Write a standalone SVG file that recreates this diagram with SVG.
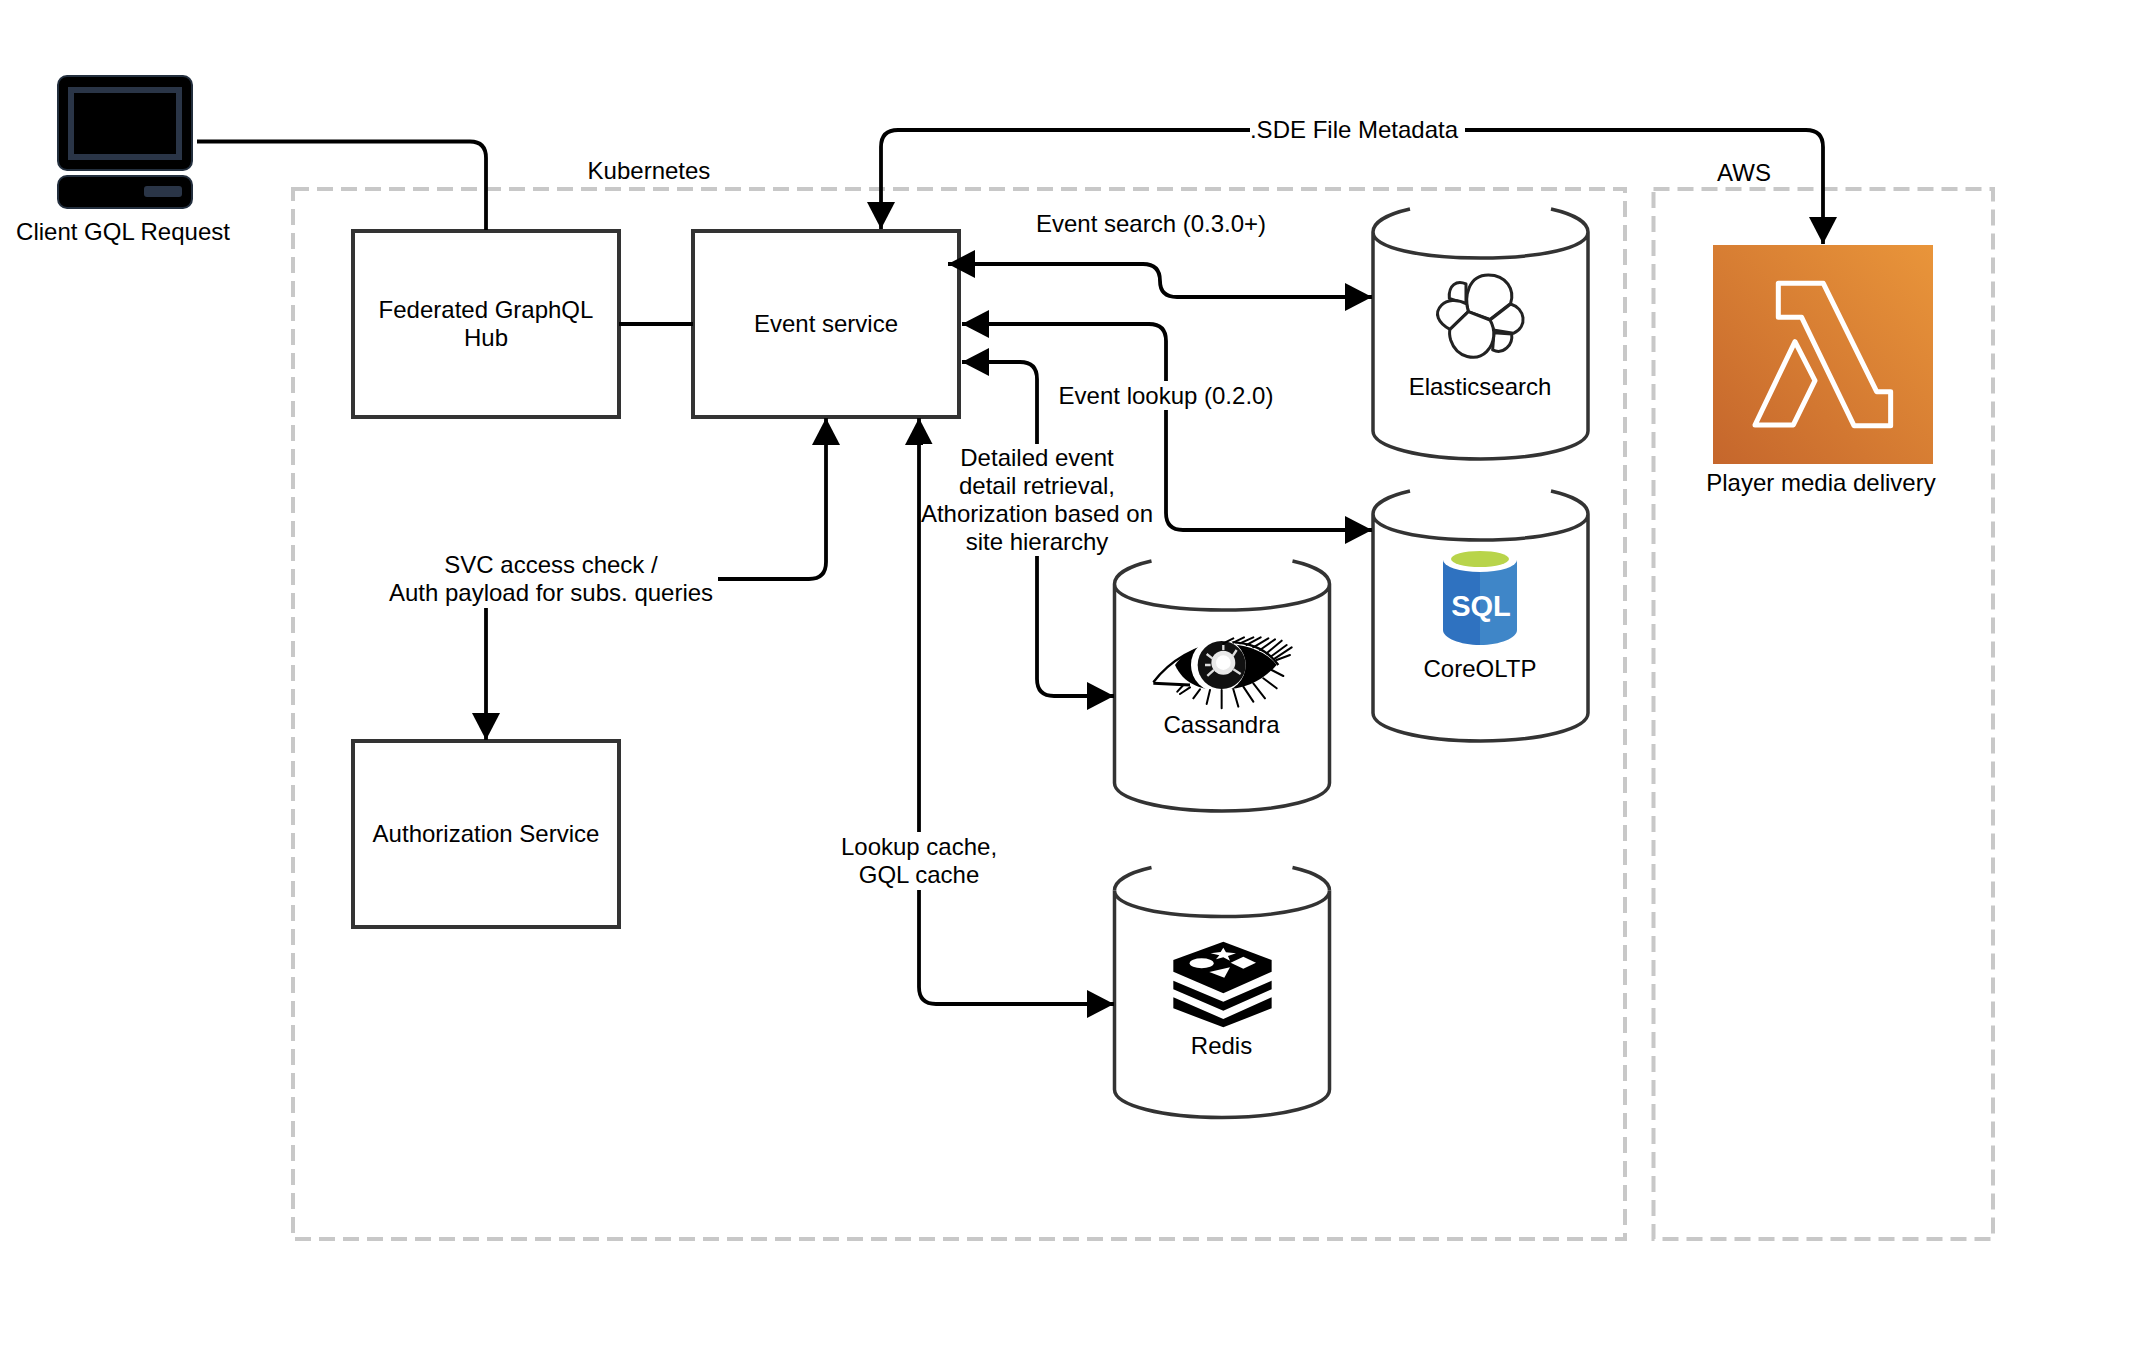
<svg xmlns="http://www.w3.org/2000/svg" width="2134" height="1368" viewBox="0 0 2134 1368">
<style>
text{font-family:"Liberation Sans",Arial,sans-serif;font-size:24px;fill:#000;text-anchor:middle}
.box{fill:#fff;stroke:#333;stroke-width:4}
.zone{fill:none;stroke:#c8c8c8;stroke-width:4;stroke-dasharray:16 8}
.conn{fill:none;stroke:#000;stroke-width:3.800}
.both{marker-start:url(#arrow);marker-end:url(#arrow)}
.end{marker-end:url(#arrow)}
.lbl{fill:#fff}
.cyl{fill:#fff;stroke:#333;stroke-width:3.500}
.cylline{fill:none;stroke:#333;stroke-width:3.500}
</style>
<defs>
<marker id="arrow" viewBox="0 0 27 28" refX="27" refY="14" markerWidth="27" markerHeight="28" markerUnits="userSpaceOnUse" orient="auto-start-reverse"><path d="M0 0L27 14L0 28Z" fill="#000"/></marker>
<linearGradient id="lam" x1="0" y1="1" x2="1" y2="0"><stop offset="0" stop-color="#c5662c"/><stop offset="1" stop-color="#e9953a"/></linearGradient>
<g id="cylinder">
<path class="cyl" d="M0 0V199C0 215 48 227 107.500 227C167 227 215 215 215 199V0C215 16 167 26 107.500 26C48 26 0 16 0 0Z"/>
<path class="cylline" d="M0 0C0-10 15-18 37-23M215 0C215-10 200-18 178-23"/>
</g>
</defs>
<rect width="2134" height="1368" fill="#fff"/>
<g id="zone-kubernetes"><rect class="zone" x="293" y="189" width="1332" height="1050"/><text x="649" y="179">Kubernetes</text></g>
<g id="zone-aws"><rect class="zone" x="1653.500" y="189" width="339.500" height="1050"/><text x="1744" y="181">AWS</text></g>
<g id="client">
<rect x="58" y="76" width="134" height="94" rx="9" fill="#000" stroke="#232f3e" stroke-width="2"/>
<rect x="71" y="90" width="108" height="67" fill="#000" stroke="#2a3547" stroke-width="6"/>
<rect x="58" y="176" width="134" height="32" rx="9" fill="#000" stroke="#232f3e" stroke-width="2"/>
<rect x="144" y="186" width="38" height="11" rx="3" fill="#2a3547"/>
<text x="123" y="240">Client GQL Request</text>
</g>
<g id="hub"><rect class="box" x="353" y="231" width="266" height="186"/><text x="486" y="318">Federated GraphQL</text><text x="486" y="346">Hub</text></g>
<g id="event-service"><rect class="box" x="693" y="231" width="266" height="186"/><text x="826" y="332">Event service</text></g>
<g id="auth"><rect class="box" x="353" y="741" width="266" height="186"/><text x="486" y="842">Authorization Service</text></g>
<g id="elasticsearch">
<use href="#cylinder" x="1373" y="232"/>
<g transform="translate(1340 180) scale(.3333)" fill="#fff" stroke="#222" stroke-width="9" stroke-linejoin="round">
<path d="M378 312C350 300 325 315 328 355L378 372Z"/>
<path d="M385 395C372 350 385 285 445 285C500 285 525 330 512 370L450 418Z"/>
<path d="M385 395L330 448C295 430 280 400 305 375C320 360 350 355 380 372Z"/>
<path d="M512 372C555 385 565 440 520 460L460 450L450 420Z"/>
<path d="M462 458L515 462C520 495 490 525 458 510Z"/>
<path d="M385 395L450 420C468 450 465 490 440 515C410 545 350 535 332 480C328 465 328 455 330 448Z"/>
</g>
<text x="1480" y="395">Elasticsearch</text>
</g>
<g id="coreoltp">
<use href="#cylinder" x="1373" y="514"/>
<path d="M1443 560H1480V645C1460 645 1443 638 1443 630Z" fill="#2f72c0"/>
<path d="M1517 560H1480V645C1500 645 1517 638 1517 630Z" fill="#3f86c8"/>
<ellipse cx="1480" cy="560" rx="37" ry="12" fill="#fff"/>
<ellipse cx="1480" cy="559" rx="29" ry="8" fill="#b8d44a"/>
<text x="1481" y="616" style="fill:#fff;font-weight:bold;font-size:29px">SQL</text>
<text x="1480" y="677">CoreOLTP</text>
</g>
<g id="cassandra">
<use href="#cylinder" x="1114.500" y="584"/>
<g transform="translate(1090 550) scale(.3333)">
<path d="M190 397C240 330 320 285 400 278C470 272 530 295 565 345" fill="none" stroke="#000" stroke-width="7"/>
<path d="M190 400L300 405" stroke="#000" stroke-width="9"/>
<path d="M255 345C290 295 350 282 400 282C470 282 530 305 560 345C520 390 470 418 390 420C330 420 280 400 255 345Z" fill="#000"/>
<circle cx="385" cy="345" r="82" fill="#fff"/>
<circle cx="395" cy="345" r="72" fill="#111"/>
<circle cx="400" cy="338" r="36" fill="#e8e8e8"/>
<circle cx="400" cy="338" r="22" fill="#fff"/>
<path d="M350 312L368 326M440 300L428 318M452 372L430 358M352 378L372 360M345 345H362M400 285V300" stroke="#ddd" stroke-width="7"/>
<g stroke="#000" stroke-width="6" stroke-linecap="round">
<path d="M400 280L430 265M430 278L462 262M450 280L490 262M470 285L512 262M490 292L535 265M510 300L555 268M530 310L575 272M545 318L590 285M555 325L605 292M560 330L600 315"/>
<path d="M280 405L262 425M300 412L270 432M330 418L310 445M360 420L350 462M395 420L395 475M430 418L445 470M460 410L490 455M490 400L525 445M520 385L560 415M545 360L580 378"/>
</g>
</g>
<text x="1221.500" y="733">Cassandra</text>
</g>
<g id="redis">
<use href="#cylinder" x="1114.500" y="890.500"/>
<g transform="translate(1090 860) scale(.3333)">
<path d="M250 300L400 245L545 300V335L400 400L250 335Z" fill="#000"/>
<path d="M250 362L400 425L545 362V388L400 452L250 388Z" fill="#000"/>
<path d="M250 412L400 477L545 412V445L400 502L250 445Z" fill="#000"/>
<g fill="#fff">
<ellipse cx="335" cy="310" rx="36" ry="15"/>
<path d="M460 290L498 308L460 326L422 308Z"/>
<path d="M400 263L408 277L438 280L414 288L420 302L400 292L378 298L388 286L362 280L392 276Z"/>
<path d="M358 336L420 322L403 353Z"/>
</g>
</g>
<text x="1221.500" y="1054">Redis</text>
</g>
<g id="lambda">
<rect x="1713" y="245" width="220" height="219" fill="url(#lam)"/>
<g transform="translate(1680 130) scale(.3333)" fill="none" stroke="#fff" stroke-width="15" stroke-linejoin="round">
<path d="M295 460H430L590 785H632V887H522L365 562H295Z"/>
<path d="M345 635L405 752L340 885H225Z"/>
</g>
<text x="1821" y="491">Player media delivery</text>
</g>
<g id="connectors">
<path class="conn" d="M197 141.500H470Q486 141.500 486 158V230"/>
<path class="conn" d="M619 324H693"/>
<path class="conn both" d="M881 229V147Q881 130 898 130H1806Q1823 130 1823 147V244"/>
<path class="conn both" d="M948 264H1143Q1160 264 1160 281Q1160 297 1177 297H1372"/>
<path class="conn both" d="M962 324H1149Q1166 324 1166 341V513Q1166 530 1183 530H1372"/>
<path class="conn both" d="M962 362H1020Q1037 362 1037 379V679Q1037 696 1054 696H1114"/>
<path class="conn both" d="M919 418V987Q919 1004 936 1004H1114"/>
<path class="conn both" d="M826 418V562Q826 579 809 579H503Q486 579 486 596V740"/>
<rect class="lbl" x="1250" y="115" width="215" height="30"/>
<text x="1354" y="138">.SDE File Metadata</text>
<text x="1151" y="232">Event search (0.3.0+)</text>
<rect class="lbl" x="1058" y="381" width="217" height="29"/>
<text x="1166" y="404">Event lookup (0.2.0)</text>
<rect class="lbl" x="923" y="444" width="229" height="112"/>
<text x="1037" y="466">Detailed event</text>
<text x="1037" y="494">detail retrieval,</text>
<text x="1037" y="522">Athorization based on</text>
<text x="1037" y="550">site hierarchy</text>
<rect class="lbl" x="388" y="550" width="330" height="58"/>
<text x="551" y="573">SVC access check /</text>
<text x="551" y="601">Auth payload for subs. queries</text>
<rect class="lbl" x="838" y="832" width="162" height="58"/>
<text x="919" y="855">Lookup cache,</text>
<text x="919" y="883">GQL cache</text>
</g>
</svg>
